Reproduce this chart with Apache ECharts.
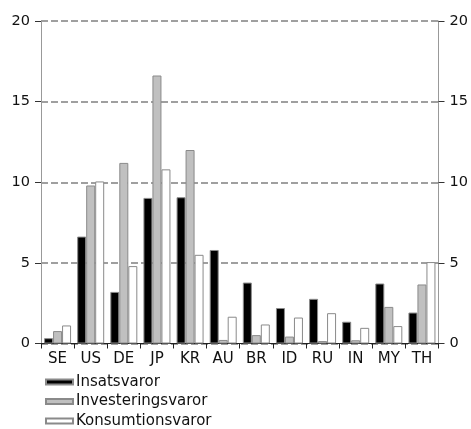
<!DOCTYPE html>
<html><head><meta charset="utf-8">
<script src="https://cdn.jsdelivr.net/npm/echarts@6/dist/echarts.min.js"></script>
<style>html,body{margin:0;padding:0;background:#fff}#c{width:471px;height:429px}</style>
</head><body><div id="c"></div>
<script>
const categories = ['SE','US','DE','JP','KR','AU','BR','ID','RU','IN','MY','TH'];
const insatsvaror = [0.33, 6.63, 3.2, 9.03, 9.07, 5.8, 3.78, 2.2, 2.77, 1.35, 3.72, 1.92];
const investeringsvaror = [0.77, 9.8, 11.2, 16.62, 12.0, 0.22, 0.52, 0.43, 0.15, 0.2, 2.27, 3.66];
const konsumtionsvaror = [1.12, 10.05, 4.8, 10.8, 5.5, 1.66, 1.18, 1.61, 1.88, 0.97, 1.08, 5.05];
const seriesNames = ['Insatsvaror','Investeringsvaror','Konsumtionsvaror'];
const yTicks = [0, 5, 10, 15, 20];

const font = 'DejaVu Sans, Verdana, sans-serif';
const chart = echarts.init(document.getElementById('c'), null, {renderer:'canvas'});
const fills = ['#000000','#c0c0c0','#ffffff'];
const data = [insatsvaror, investeringsvaror, konsumtionsvaror];
const yAxisBase = {
  type:'value', min:yTicks[0], max:yTicks[yTicks.length-1], interval:5,
  axisLine:{show:true, lineStyle:{color:'#999999', width:1}},
  axisTick:{show:true, inside:false, length:6, lineStyle:{color:'#333333'}},
  axisLabel:{color:'#111', fontFamily:font, fontSize:14.5, margin:11}
};
chart.setOption({
  animation:false,
  backgroundColor:'#fff',
  grid:{left:41, right:32.5, top:21, bottom:85.5},
  legend:{
    orient:'vertical', left:45, top:374, height:80, padding:0,
    itemWidth:27, itemHeight:5, itemGap:3.5,
    icon:'rect',
    textStyle:{fontFamily:font, fontSize:15, lineHeight:16, color:'#111', padding:[0,0,0,-2]},
    data:seriesNames
  },
  xAxis:{
    type:'category', data:categories,
    axisLine:{show:true, lineStyle:{color:'#222', width:1}},
    axisTick:{show:true, length:5, lineStyle:{color:'#222'}},
    axisLabel:{color:'#111', fontFamily:font, fontSize:15, margin:8}
  },
  yAxis:[
    Object.assign({}, yAxisBase, {position:'left',
      splitLine:{show:true, lineStyle:{color:'#808080', width:1.5, type:[7,3]}}}),
    Object.assign({}, yAxisBase, {position:'right', splitLine:{show:false}})
  ],
  series: seriesNames.map((n,i)=>({
    name:n, type:'bar', data:data[i], barWidth:9, barGap:'0%',
    itemStyle:{color:fills[i], borderColor:'#8a8a8a', borderWidth:1}
  }))
});
</script></body></html>
